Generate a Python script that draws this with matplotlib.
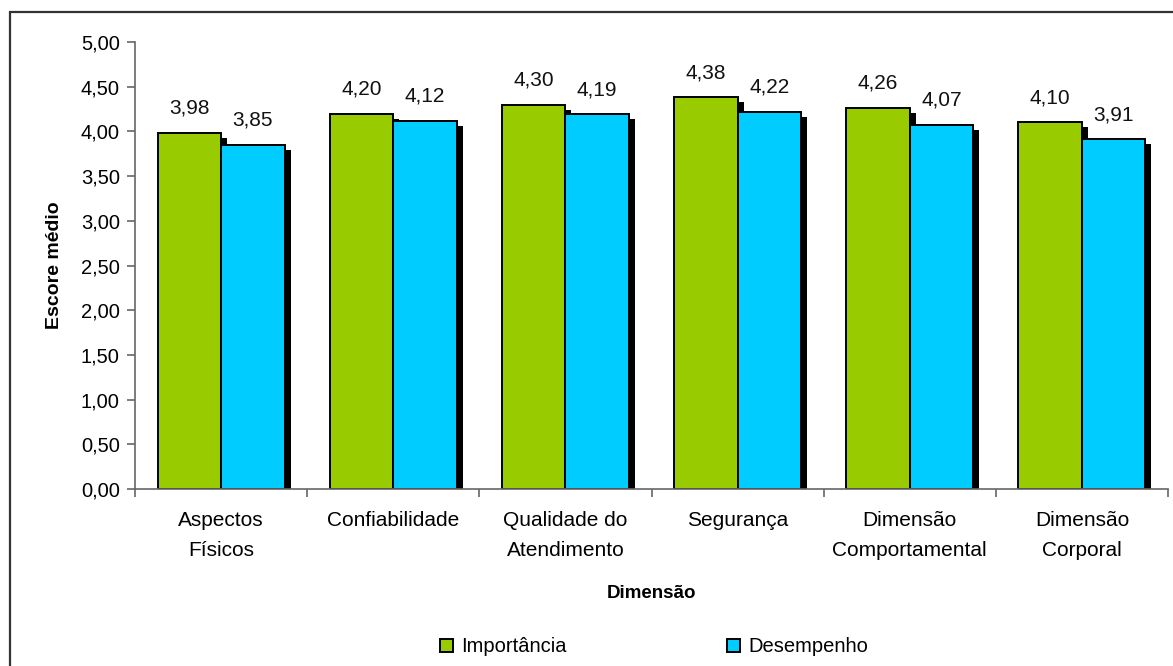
import matplotlib

matplotlib.use("Agg")

import matplotlib.pyplot as plt
import numpy as np
from matplotlib.patches import Patch, Rectangle

plt.rcParams["font.family"] = ["Liberation Sans", "DejaVu Sans"]

# Mean scores per service-quality dimension
categories = [
    "Aspectos\nFísicos",
    "Confiabilidade",
    "Qualidade do\nAtendimento",
    "Segurança",
    "Dimensão\nComportamental",
    "Dimensão\nCorporal",
]
importancia = [3.98, 4.20, 4.30, 4.38, 4.26, 4.10]
desempenho = [3.85, 4.12, 4.19, 4.22, 4.07, 3.91]
y_ticks = [0.0, 0.5, 1.0, 1.5, 2.0, 2.5, 3.0, 3.5, 4.0, 4.5, 5.0]

GREEN = "#99CC00"
BLUE = "#00CCFF"
AXIS_GREY = "#666666"


def fmt(v):
    return f"{v:.2f}".replace(".", ",")


fig = plt.figure(figsize=(11.73, 6.66), dpi=100)
ax = fig.add_axes([135 / 1173, 1 - 489 / 666, 1033 / 1173, 447 / 666])

x = np.arange(len(categories))
width = 0.369
shadow_dx = 0.035
shadow_dy = 0.056

for offset, values, color in ((-width / 2, importancia, GREEN), (width / 2, desempenho, BLUE)):
    vals = np.array(values)
    # drop shadow behind each bar
    ax.bar(x + offset + shadow_dx, vals - shadow_dy, width, color="black", zorder=1)
    ax.bar(x + offset, vals, width, color=color, edgecolor="black", linewidth=1.4, zorder=2)
    for xi, v in zip(x + offset, vals):
        ax.text(xi, v + 0.17, fmt(v), ha="center", va="bottom", fontsize=15, color="#111111")

ax.set_xlim(-0.5, len(categories) - 0.5)
ax.set_ylim(0, 5)
ax.set_yticks(y_ticks)
ax.set_yticklabels([fmt(v) for v in y_ticks], fontsize=14.5)

ax.set_xticks(x)
ax.set_xticklabels(categories, fontsize=15, linespacing=1.7)
ax.set_xticks(np.arange(len(categories) + 1) - 0.5, minor=True)
ax.tick_params(axis="x", which="major", length=0, pad=16)
ax.tick_params(axis="x", which="minor", length=6, color=AXIS_GREY, width=1.2)
ax.tick_params(axis="y", length=6, color=AXIS_GREY, width=1.2, pad=5)

for side in ("top", "right"):
    ax.spines[side].set_visible(False)
ax.spines["left"].set_color(AXIS_GREY)
ax.spines["bottom"].set_color(AXIS_GREY)
ax.spines["left"].set_linewidth(1.2)
ax.spines["bottom"].set_linewidth(1.2)

ax.set_ylabel("Escore médio", fontsize=14, fontweight="bold", labelpad=13)
fig.text(651 / 1173, 1 - 593 / 666, "Dimensão", ha="center", va="center",
         fontsize=13.5, fontweight="bold")

handles = [
    Patch(facecolor=GREEN, edgecolor="black", linewidth=1.4, label="Importância"),
    Patch(facecolor=BLUE, edgecolor="black", linewidth=1.4, label="Desempenho"),
]
fig.legend(handles=handles, loc="center", bbox_to_anchor=(654 / 1173, 1 - 647 / 666),
           ncol=2, frameon=False, fontsize=14.5, handlelength=0.65, handleheight=0.65,
           handletextpad=0.4, columnspacing=8)

# outer chart frame
fig.patches.append(Rectangle((10 / 1173, -0.05), 1.2, 1.05 - 12 / 666, transform=fig.transFigure,
                             fill=False, edgecolor="#333333", linewidth=1.6))

fig.savefig("out.png", dpi=100)
